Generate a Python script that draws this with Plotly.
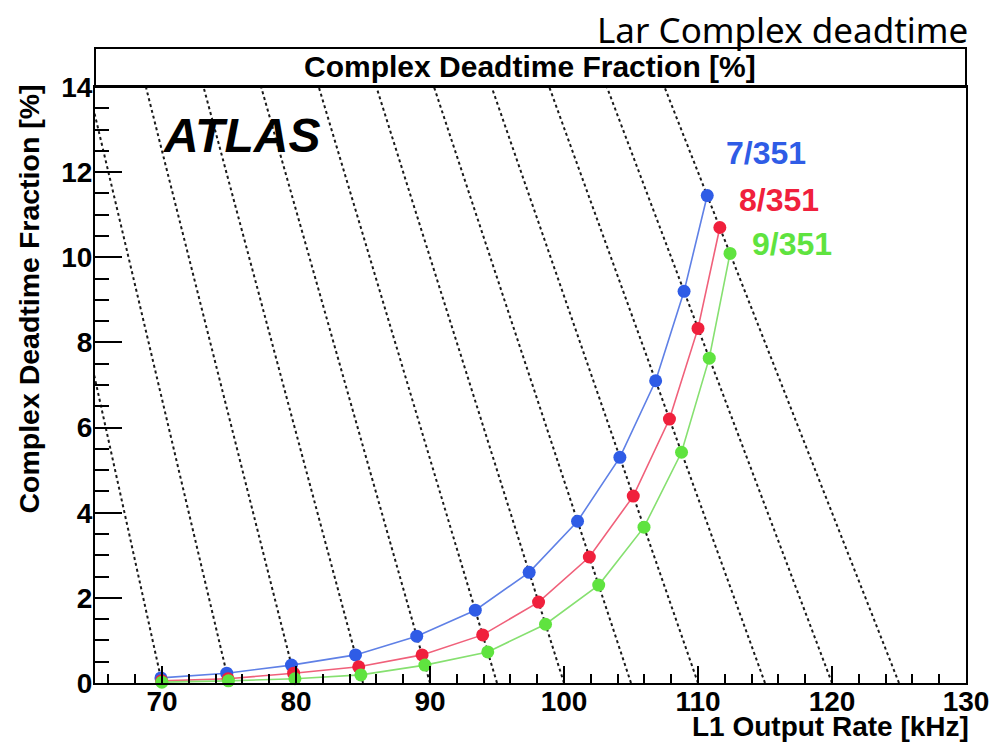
import plotly.graph_objects as go

# ---------------- data ----------------
# L1 output rate [kHz] and complex deadtime fraction [%] for each configuration
series_names = ["7/351", "8/351", "9/351"]

rate_7 = [69.92, 74.83, 79.66, 84.44, 89.01, 93.38, 97.40, 101.01, 104.17, 106.84, 108.96, 110.69]
dead_7 = [0.12, 0.23, 0.42, 0.66, 1.10, 1.71, 2.60, 3.80, 5.30, 7.10, 9.20, 11.45]

rate_8 = [69.97, 74.93, 79.82, 84.68, 89.41, 93.93, 98.10, 101.89, 105.17, 107.87, 110.00, 111.63]
dead_8 = [0.05, 0.10, 0.23, 0.38, 0.66, 1.13, 1.90, 2.96, 4.39, 6.20, 8.33, 10.70]

rate_9 = [69.99, 74.96, 79.92, 84.84, 89.62, 94.31, 98.62, 102.59, 105.97, 108.77, 110.84, 112.39]
dead_9 = [0.02, 0.05, 0.10, 0.19, 0.42, 0.73, 1.38, 2.30, 3.66, 5.42, 7.63, 10.09]

# iso-input-rate guide lines (L1 input rate, kHz); output = input * (1 - deadtime)
input_rates = [70, 75, 80, 85, 90, 95, 100, 105, 110, 115, 120, 125]
guide_deadtime = [0, 14]

x_ticks = [70, 80, 90, 100, 110, 120, 130]
y_ticks = [0, 2, 4, 6, 8, 10, 12, 14]

# ---------------- style ----------------
marker_colors = ["#2f5ce6", "#f0203c", "#5fe33f"]
line_colors = ["#5f80e6", "#f0607a", "#86e070"]
label_colors = ["#2f5ce6", "#f0203c", "#5fe33f"]
FONT = "Liberation Sans"

fig = go.Figure()

for r in input_rates:
    fig.add_trace(go.Scatter(
        x=[r * (1 - d / 100.0) for d in guide_deadtime],
        y=guide_deadtime,
        mode="lines",
        line=dict(color="#1a1a1a", width=2.0, dash="3px,3px"),
        hoverinfo="skip",
        showlegend=False,
    ))

for name, xs, ys, mc, lc in zip(series_names, [rate_7, rate_8, rate_9],
                                [dead_7, dead_8, dead_9], marker_colors, line_colors):
    fig.add_trace(go.Scatter(
        x=xs, y=ys, mode="lines", name=name,
        line=dict(color=lc, width=1.6), showlegend=False, cliponaxis=False,
    ))
for name, xs, ys, mc, lc in zip(series_names, [rate_7, rate_8, rate_9],
                                [dead_7, dead_8, dead_9], marker_colors, line_colors):
    fig.add_trace(go.Scatter(
        x=xs, y=ys, mode="markers", name=name,
        marker=dict(color=mc, size=13, line=dict(width=0)), showlegend=False,
        cliponaxis=False,
    ))

L, R, T, B = 95, 27, 87, 60
W, H = 1001, 743
pw, ph = W - L - R, H - T - B

def px(xpix):
    return (xpix - L) / pw

def py(ypix):
    return (H - B - ypix) / ph

fig.update_layout(
    width=W, height=H,
    margin=dict(l=L, r=R, t=T, b=B, pad=0),
    paper_bgcolor="white", plot_bgcolor="white",
    showlegend=False,
    font=dict(family=FONT, color="black"),
    xaxis=dict(
        range=[65, 130], tickvals=x_ticks, ticktext=[str(v) for v in x_ticks],
        ticks="inside", ticklen=17, tickwidth=2, tickcolor="black",
        minor=dict(dtick=2, tick0=0, ticks="inside", ticklen=9, tickwidth=2, tickcolor="black"),
        showgrid=False, zeroline=False,
        showline=True, linecolor="black", linewidth=2, mirror=True,
        tickfont=dict(family=FONT, size=28, weight="bold", color="black"),
        ticklabelstandoff=-8,
    ),
    yaxis=dict(
        range=[0, 14], tickvals=y_ticks, ticktext=[str(v) for v in y_ticks],
        ticks="inside", ticklen=27, tickwidth=2, tickcolor="black",
        minor=dict(dtick=0.5, tick0=0, ticks="inside", ticklen=14, tickwidth=2, tickcolor="black"),
        showgrid=False, zeroline=False,
        showline=True, linecolor="black", linewidth=2, mirror=True,
        tickfont=dict(family=FONT, size=28, weight="bold", color="black"),
        ticklabelstandoff=-5,
    ),
)

# title box above the frame
fig.add_shape(type="rect", xref="paper", yref="paper",
              x0=0, x1=1, y0=1, y1=py(48),
              line=dict(color="black", width=2), fillcolor="rgba(0,0,0,0)")

annotations = [
    dict(text="Complex Deadtime Fraction [%]", x=px(534), y=py(67), size=30, bold=True),
    dict(text="L1 Output Rate [kHz]", x=px(979), y=py(726), size=28, bold=True, xanchor="right"),
    dict(text="Complex Deadtime Fraction [%]", x=px(28), y=py(299), size=28.5, bold=True, textangle=-90),
    dict(text="<i>ATLAS</i>", x=px(243), y=py(135), size=48, bold=True),
]
for a in annotations:
    txt = a["text"]
    if a.get("bold"):
        txt = "<b>" + txt + "</b>"
    fig.add_annotation(text=txt, xref="paper", yref="paper", x=a["x"], y=a["y"],
                       xanchor=a.get("xanchor", "center"), yanchor="middle",
                       textangle=a.get("textangle", 0), showarrow=False,
                       font=dict(family=FONT, size=a["size"], color="black"))

label_pos = [(772, 153), (785, 200), (798, 244)]
for name, col, (lx, ly) in zip(series_names, label_colors, label_pos):
    fig.add_annotation(text="<b>" + name + "</b>", xref="paper", yref="paper",
                       x=px(lx), y=py(ly), xanchor="center", yanchor="middle",
                       showarrow=False, font=dict(family=FONT, size=32, color=col))

fig.add_annotation(text="Lar Complex deadtime", xref="paper", yref="paper",
                   x=px(978), y=py(29), xanchor="right", yanchor="middle",
                   showarrow=False, font=dict(family="Noto Sans", size=35, color="black"))

fig.write_html("out.html")
